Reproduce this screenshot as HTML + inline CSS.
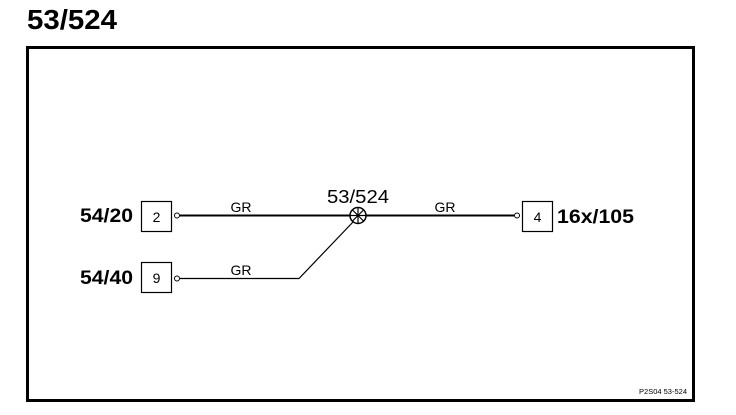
<!DOCTYPE html>
<html><head><style>
body{margin:0;background:#fff;width:736px;height:410px;overflow:hidden}
</style></head><body>
<svg width="736" height="410" xmlns="http://www.w3.org/2000/svg" font-family="Liberation Sans, Arial, sans-serif">
<text x="27" y="29" font-size="28" font-weight="bold" textLength="90" lengthAdjust="spacingAndGlyphs">53/524</text>
<rect x="27.5" y="47.5" width="666" height="353" fill="none" stroke="#000" stroke-width="3"/>
<rect x="141.5" y="201.5" width="30" height="30" fill="none" stroke="#000" stroke-width="1.2"/>
<text x="156.5" y="222" font-size="14" text-anchor="middle">2</text>
<rect x="141.5" y="262.5" width="30" height="30" fill="none" stroke="#000" stroke-width="1.2"/>
<text x="156.5" y="283" font-size="14" text-anchor="middle">9</text>
<rect x="522.5" y="201.5" width="30" height="30" fill="none" stroke="#000" stroke-width="1.2"/>
<text x="537.5" y="222" font-size="14" text-anchor="middle">4</text>
<text x="80" y="222" font-size="19" font-weight="bold" textLength="53" lengthAdjust="spacingAndGlyphs">54/20</text>
<text x="80" y="284" font-size="19" font-weight="bold" textLength="53" lengthAdjust="spacingAndGlyphs">54/40</text>
<text x="557" y="223" font-size="19" font-weight="bold" textLength="77" lengthAdjust="spacingAndGlyphs">16x/105</text>
<circle cx="177" cy="215.5" r="2.5" fill="#fff" stroke="#000"/>
<circle cx="177" cy="278.5" r="2.5" fill="#fff" stroke="#000"/>
<circle cx="517" cy="215.5" r="2.5" fill="#fff" stroke="#000"/>
<line x1="180" y1="215.5" x2="514" y2="215.5" stroke="#000" stroke-width="2"/>
<polyline points="180,278.5 299,278.5 353,222" fill="none" stroke="#000" stroke-width="1.2"/>
<circle cx="358" cy="215.5" r="8" fill="#fff" stroke="#000" stroke-width="1.5"/>
<line x1="352.5" y1="210" x2="363.5" y2="221" stroke="#000" stroke-width="1.2"/>
<line x1="363.5" y1="210" x2="352.5" y2="221" stroke="#000" stroke-width="1.2"/>
<line x1="350" y1="215.5" x2="366" y2="215.5" stroke="#000" stroke-width="1.2"/>
<line x1="358" y1="207.5" x2="358" y2="223.5" stroke="#000" stroke-width="1.2"/>
<text x="358" y="203" font-size="18" text-anchor="middle" textLength="62" lengthAdjust="spacingAndGlyphs">53/524</text>
<text x="241" y="212" font-size="14" text-anchor="middle">GR</text>
<text x="241" y="275" font-size="14" text-anchor="middle">GR</text>
<text x="445" y="212" font-size="14" text-anchor="middle">GR</text>
<text x="687" y="394" font-size="7.5" text-anchor="end">P2S04  53-524</text>
</svg>
</body></html>
